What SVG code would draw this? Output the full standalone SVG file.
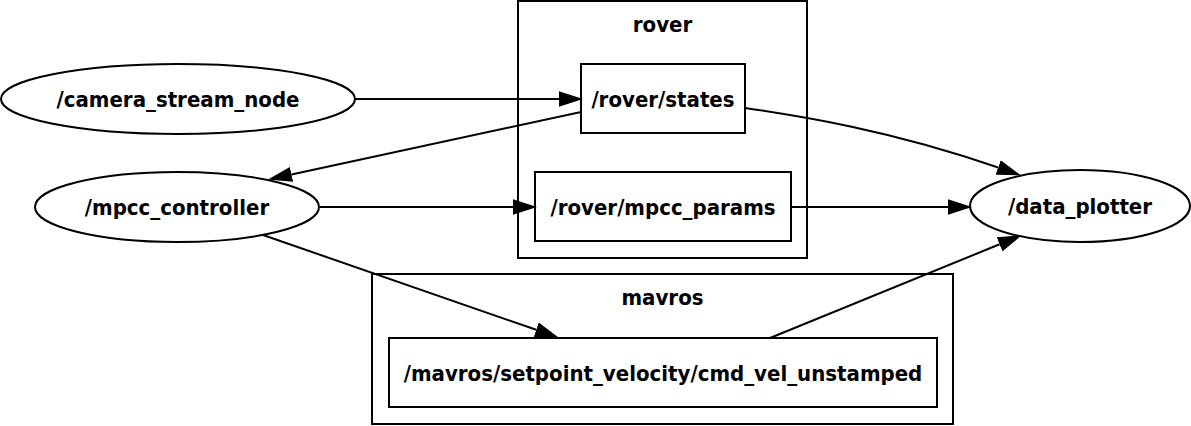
<svg xmlns="http://www.w3.org/2000/svg" width="1191" height="426" viewBox="0 0 1191 426">
<style>
text{font-family:"DejaVu Sans Condensed","DejaVu Sans","Liberation Sans",sans-serif;font-stretch:condensed;font-weight:bold;font-size:22px;text-anchor:middle;fill:#000}
.shape{fill:none;stroke:#000;stroke-width:2}
.edge{fill:none;stroke:#000;stroke-width:2}
</style>
<defs>
<marker id="arr" markerUnits="userSpaceOnUse" markerWidth="24" markerHeight="16" viewBox="0 0 22 14" refX="0" refY="7" orient="auto">
<path d="M0,0 L22,7 L0,14 z" fill="#000"/>
</marker>
</defs>
<rect width="1191" height="426" fill="#fff"/>
<g id="cluster_rover">
<rect class="shape" x="518" y="1" width="289" height="257"/>
<text x="662.5" y="32">rover</text>
</g>
<g id="cluster_mavros">
<rect class="shape" x="372" y="274" width="581" height="150"/>
<text x="662.5" y="305">mavros</text>
</g>
<g id="camera_stream_node">
<ellipse class="shape" cx="178" cy="99" rx="177" ry="35"/>
<text x="178" y="107">/camera_stream_node</text>
</g>
<g id="mpcc_controller">
<ellipse class="shape" cx="177" cy="207" rx="142" ry="35"/>
<text x="177" y="215">/mpcc_controller</text>
</g>
<g id="data_plotter">
<ellipse class="shape" cx="1080" cy="206" rx="110" ry="36"/>
<text x="1080" y="214">/data_plotter</text>
</g>
<g id="rover_states">
<rect class="shape" x="581" y="64" width="164" height="69"/>
<text x="663" y="107">/rover/states</text>
</g>
<g id="rover_mpcc_params">
<rect class="shape" x="535" y="172" width="256" height="69"/>
<text x="663" y="215">/rover/mpcc_params</text>
</g>
<g id="mavros_setpoint">
<rect class="shape" x="389" y="338" width="548" height="69"/>
<text x="663" y="381">/mavros/setpoint_velocity/cmd_vel_unstamped</text>
</g>
<g id="edges">
<path class="edge" marker-end="url(#arr)" d="M355,99 L559,99"/>
<path class="edge" marker-end="url(#arr)" d="M581,112 L291.5,174.4"/>
<path class="edge" marker-end="url(#arr)" d="M745,108 C800,116 890,130 998.2,167.5"/>
<path class="edge" marker-end="url(#arr)" d="M320,207 L513,207"/>
<path class="edge" marker-end="url(#arr)" d="M791,207 L948,207"/>
<path class="edge" marker-end="url(#arr)" d="M263,235 L536.2,329.8"/>
<path class="edge" marker-end="url(#arr)" d="M770,338 L999.6,244.3"/>
</g>
</svg>
